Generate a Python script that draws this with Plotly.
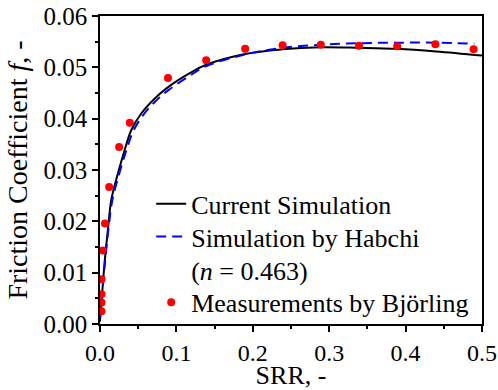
import plotly.graph_objects as go

# Current simulation (black solid)
cur_x = [0, 0.0009, 0.0026, 0.0061, 0.0105, 0.0148, 0.0236, 0.0323, 0.041, 0.054, 0.0694,
         0.087, 0.118, 0.139, 0.19, 0.238, 0.289, 0.339, 0.389, 0.44, 0.5]
cur_y = [0.0005, 0.0024, 0.0056, 0.0121, 0.0186, 0.0242, 0.0294, 0.0339, 0.0378, 0.0410, 0.0436,
         0.0459, 0.0489, 0.0505, 0.0526, 0.0535, 0.0539, 0.0538, 0.0536, 0.0531, 0.0523]

# Simulation by Habchi (blue dashed)
hab_x = [0, 0.001, 0.003, 0.0065, 0.011, 0.016, 0.025, 0.034, 0.043, 0.056, 0.072,
         0.09, 0.12, 0.14, 0.19, 0.239, 0.29, 0.34, 0.39, 0.44, 0.49]
hab_y = [0.0012, 0.0032, 0.0062, 0.0120, 0.0184, 0.0240, 0.0292, 0.0336, 0.0374, 0.0406, 0.0433,
         0.0456, 0.0486, 0.0503, 0.0525, 0.0538, 0.0544, 0.0547, 0.0548, 0.0548, 0.0546]

# Measurements by Björling (red dots)
meas_x = [0.002, 0.002, 0.002, 0.002, 0.0035, 0.0065, 0.012, 0.025, 0.039, 0.089,
          0.139, 0.19, 0.239, 0.289, 0.339, 0.389, 0.439, 0.489]
meas_y = [0.0025, 0.0042, 0.0058, 0.0087, 0.0143, 0.0196, 0.0267, 0.0345, 0.0392, 0.0479,
          0.0514, 0.0536, 0.0543, 0.0544, 0.0542, 0.0541, 0.0545, 0.0535]

x_ticks = [0.0, 0.1, 0.2, 0.3, 0.4, 0.5]
x_labels = ["0.0", "0.1", "0.2", "0.3", "0.4", "0.5"]
y_ticks = [0.00, 0.01, 0.02, 0.03, 0.04, 0.05, 0.06]
y_labels = ["0.00", "0.01", "0.02", "0.03", "0.04", "0.05", "0.06"]

FONT = "Liberation Serif, Times New Roman, serif"

fig = go.Figure()
fig.add_trace(go.Scatter(x=cur_x, y=cur_y, mode="lines", name="Current Simulation",
                         line=dict(color="black", width=2, shape="spline"), legend="legend"))
fig.add_trace(go.Scatter(x=hab_x, y=hab_y, mode="lines", name="Simulation by Habchi",
                         line=dict(color="#0000ff", width=2, dash="10px,6px", shape="spline"),
                         legend="legend2"))
fig.add_trace(go.Scatter(x=[None], y=[None], mode="lines", name="(<i>n</i> = 0.463)",
                         line=dict(color="rgba(0,0,0,0)", width=0), legend="legend3"))
fig.add_trace(go.Scatter(x=meas_x, y=meas_y, mode="markers", name="Measurements by Björling",
                         marker=dict(color="#ff0000", size=8, line=dict(width=0)),
                         legend="legend4"))

leg_common = dict(x=0.134, xanchor="left", yanchor="middle", bgcolor="rgba(0,0,0,0)",
                  borderwidth=0, font=dict(family=FONT, size=26, color="black"))
rows = [0.39, 0.284, 0.175, 0.07]

fig.update_layout(
    width=498, height=390,
    margin=dict(l=100, r=16, t=16, b=66),
    paper_bgcolor="white", plot_bgcolor="white",
    font=dict(family=FONT, color="black"),
    showlegend=True,
    legend=dict(y=rows[0], **leg_common),
    legend2=dict(y=rows[1], **leg_common),
    legend3=dict(y=rows[2], **leg_common),
    legend4=dict(y=rows[3], **leg_common),
    xaxis=dict(
        range=[0, 0.5], tickvals=x_ticks, ticktext=x_labels, automargin=False,
        showgrid=False, zeroline=False, showline=True, linecolor="black", linewidth=1.5,
        mirror=True, ticks="outside", ticklen=6, tickwidth=1.5, tickcolor="black",
        minor=dict(ticks="outside", ticklen=3, tickwidth=1.5, tickcolor="black", dtick=0.05,
                   tick0=0, showgrid=False),
        tickfont=dict(family=FONT, size=24, color="black"),
        title=dict(text="SRR, -", font=dict(family=FONT, size=26, color="black"), standoff=6),
    ),
    yaxis=dict(
        range=[0, 0.06], tickvals=y_ticks, ticktext=y_labels, automargin=False,
        showgrid=False, zeroline=False, showline=True, linecolor="black", linewidth=1.5,
        mirror=True, ticks="outside", ticklen=6, tickwidth=1.5, tickcolor="black",
        minor=dict(ticks="outside", ticklen=3, tickwidth=1.5, tickcolor="black", dtick=0.005,
                   tick0=0, showgrid=False),
        tickfont=dict(family=FONT, size=25, color="black"),
        title=dict(text="Friction Coefficient <i>f</i>, -",
                   font=dict(family=FONT, size=28, color="black"), standoff=8),
    ),
)

fig.write_html("out.html")
